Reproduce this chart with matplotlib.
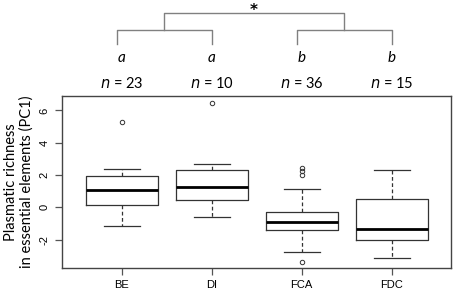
import matplotlib
matplotlib.use("Agg")
import matplotlib.pyplot as plt
import matplotlib.transforms as mtransforms

categories = ["BE", "DI", "FCA", "FDC"]
n_labels = ["23", "10", "36", "15"]
letters = ["a", "a", "b", "b"]
whisker_low = [-1.14, -0.58, -2.79, -3.14]
q1 = [0.14, 0.45, -1.39, -2.02]
medians = [1.09, 1.24, -0.89, -1.32]
q3 = [1.94, 2.29, -0.29, 0.49]
whisker_high = [2.37, 2.70, 1.11, 2.31]
outliers = [[5.28], [6.44], [2.45, 2.22, 2.0, -3.37], []]
yticks = [-2, 0, 2, 4, 6]

W, H = 454, 293
fig = plt.figure(figsize=(W / 100, H / 100), dpi=100)
ax = fig.add_axes([62 / W, 1 - 268 / H, (451 - 62) / W, (268 - 96) / H])

stats = []
for i, c in enumerate(categories):
    stats.append(dict(label=c, whislo=whisker_low[i], q1=q1[i], med=medians[i],
                      q3=q3[i], whishi=whisker_high[i], fliers=outliers[i]))

positions = list(range(1, len(categories) + 1))
ax.bxp(stats, positions=positions, widths=0.8, showfliers=True,
       boxprops=dict(color="#333333", linewidth=0.9),
       medianprops=dict(color="black", linewidth=2.0),
       whiskerprops=dict(color="#333333", linewidth=0.9, linestyle=(0, (3, 2))),
       capprops=dict(color="#333333", linewidth=0.9),
       flierprops=dict(marker="o", markersize=3.2, markerfacecolor="none",
                       markeredgecolor="#333333", markeredgewidth=0.7),
       capwidths=0.4)

ax.set_xlim(0.337, 4.66)
ax.set_ylim(-3.75, 6.89)
ax.set_xticks(positions)
ax.set_xticklabels(categories, family="Liberation Sans", fontsize=8)
ax.set_yticks(yticks)
ax.set_yticklabels([str(t) for t in yticks], family="Liberation Sans", fontsize=8,
                   rotation=90, va="center")
ax.tick_params(axis="both", direction="out", length=5, width=0.9, color="#555555",
               pad=4)
for s in ax.spines.values():
    s.set_color("#444444")
    s.set_linewidth(1.0)

ax.set_ylabel("Plasmatic richness\nin essential elements (PC1)", family="Lato",
              fontsize=10.5, labelpad=4, linespacing=1.1)

# annotations above plot: data x, figure y
trans = mtransforms.blended_transform_factory(ax.transData, fig.transFigure)
def fy(py):
    return 1 - py / H

for i in range(len(categories)):
    ax.text(positions[i], fy(83), "$\\mathit{n}$ = " + n_labels[i], transform=trans,
            ha="center", va="center", fontsize=10.5, family="Lato")
    ax.text(positions[i], fy(58), letters[i], transform=trans, ha="center",
            va="center", fontsize=11, family="Lato", style="italic")

gcol = "#808080"
lw = 1.0
# inner brackets
for a, b in [(0, 1), (2, 3)]:
    xa, xb = positions[a] - 0.05, positions[b] - 0.0
    ax.plot([xa, xa, xb, xb], [fy(44), fy(30), fy(30), fy(44)], transform=trans,
            color=gcol, lw=lw, clip_on=False)
# outer bracket
xl = (positions[0] + positions[1]) / 2 - 0.03
xr = (positions[2] + positions[3]) / 2 - 0.03
ax.plot([xl, xl, xr, xr], [fy(30), fy(13.3), fy(13.3), fy(30)], transform=trans,
        color=gcol, lw=lw, clip_on=False)
ax.text((xl + xr) / 2, fy(11), "*", transform=trans, ha="center", va="center",
        fontsize=11, family="DejaVu Sans", fontweight="bold")

fig.savefig("out.png", dpi=100)
